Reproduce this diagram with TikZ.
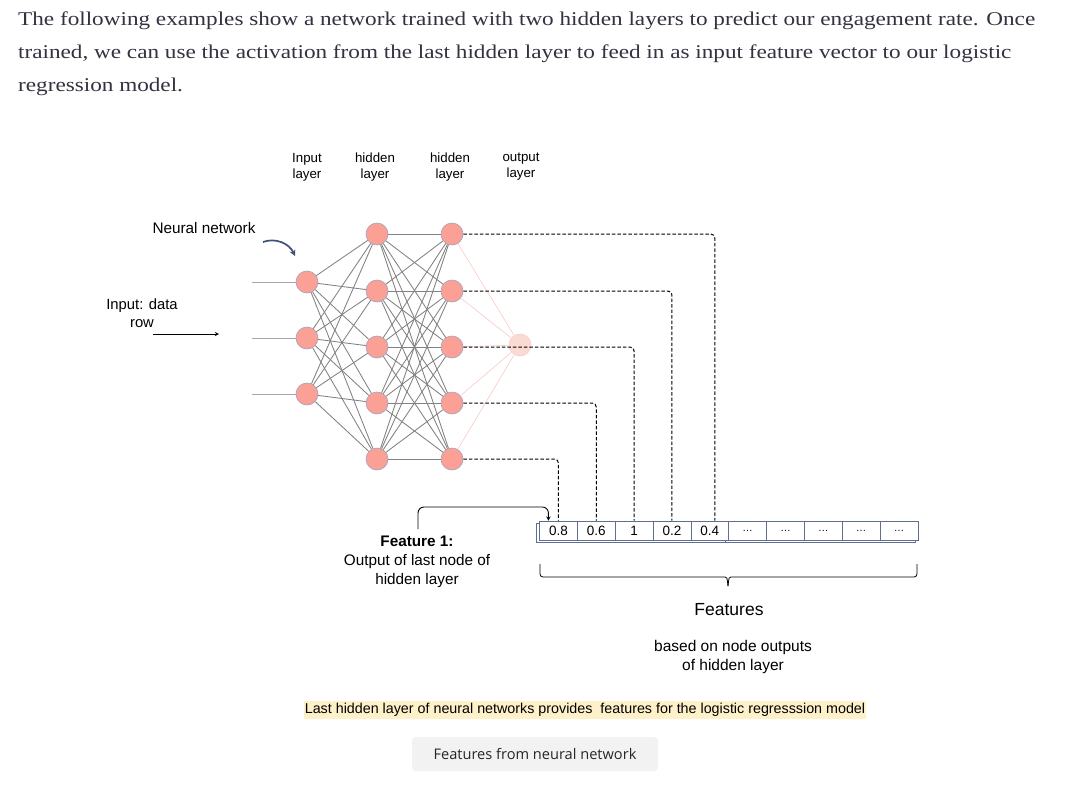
\documentclass[tikz,border=0pt]{standalone}
\usepackage{fontspec}
\setmainfont{Liberation Sans}
\newfontfamily\serifbody{Liberation Serif}
\newfontfamily\uifont{Open Sans}
\usetikzlibrary{calc}

\definecolor{neuron}{RGB}{250,160,148}
\definecolor{neuronline}{RGB}{165,160,190}
\definecolor{outfill}{RGB}{252,218,212}
\definecolor{outedge}{RGB}{242,208,206}
\definecolor{wiregray}{RGB}{130,130,130}
\definecolor{pinkwire}{RGB}{250,202,198}
\definecolor{navy}{RGB}{62,80,118}
\definecolor{cellline}{RGB}{95,110,145}
\definecolor{hilite}{RGB}{254,240,200}
\definecolor{btn}{RGB}{242,242,242}
\definecolor{bodytext}{RGB}{50,50,64}

\newcommand\paraone{The following examples show a network trained with two hidden layers to predict our engagement rate. Once}
\newlength\paralen
\settowidth\paralen{\serifbody\fontsize{19.5}{23}\selectfont\paraone}
\pgfmathsetmacro\stretchx{1017pt/\paralen}

\tikzset{
  neuron/.style={circle,fill=neuron,draw=neuronline,line width=0.6pt,minimum size=22pt,inner sep=0},
  outneuron/.style={neuron,fill=outfill,draw=outedge},
  wire/.style={draw=wiregray,line width=0.85pt},
  pinkwire/.style={draw=pinkwire,line width=0.6pt},
  dashline/.style={dash pattern=on 3.5pt off 2pt,line width=1pt,rounded corners=4pt},
  cell/.style={draw=cellline,fill=white,line width=0.7pt,minimum width=37.85pt,minimum height=19pt,inner sep=0,font=\fontsize{13.5}{15}\selectfont},
  lbl/.style={font=\fontsize{13.3}{16}\selectfont,align=center},
  >=stealth
}

\begin{document}
\begin{tikzpicture}[x=1pt,y=-1pt]
        \fill[white](0,0)rectangle(1065,792);
        \useasboundingbox(0,0)rectangle(1065,792);

        % intro text
        \node[anchor=base west,inner sep=0,text=bodytext,font=\serifbody\fontsize{19.5}{23}\selectfont](para1)at(18,26){\scalebox{\stretchx}[1]{\paraone}};
        \node[anchor=base west,inner sep=0,text=bodytext,font=\serifbody\fontsize{19.5}{23}\selectfont](para2)at(18,59){\scalebox{\stretchx}[1]{trained, we can use the activation from the last hidden layer to feed in as input feature vector to our logistic}};
        \node[anchor=base west,inner sep=0,text=bodytext,font=\serifbody\fontsize{19.5}{23}\selectfont](para3)at(18,92){\scalebox{\stretchx}[1]{regression model.}};

        % layer titles
        \node[lbl](tin)at(307,167){Input\\layer};
        \node[lbl](th1)at(375,167){hidden\\layer};
        \node[lbl](th2)at(450,167){hidden\\layer};
        \node[lbl](tout)at(521,167){output\\layer};

        % neurons
        \foreach \y [count=\i] in {282,338,394}{
            \node[neuron](in\i)at(307,\y){};
            \coordinate(feed\i)at(252,\y);
        }
        \foreach \y [count=\i] in {234,291,347,403,459}{
            \node[neuron](ha\i)at(377,\y){};
            \node[neuron](hb\i)at(452,\y){};
        }
        \node[outneuron](out)at(520,345){};

        % connections
        \foreach \i in {1,2,3}\draw[wire,draw=wiregray!70](feed\i)--(in\i);
        \foreach \i in {1,2,3}\foreach \j in {1,...,5}\draw[wire](in\i)--(ha\j);
        \foreach \i in {1,...,5}\foreach \j in {1,...,5}\draw[wire](ha\i)--(hb\j);
        \foreach \j in {1,...,5}\draw[pinkwire](hb\j)--(out);

        % left labels
        \node[font=\fontsize{15.3}{18}\selectfont](nnlabel)at(204,228){Neural network};
        \coordinate(nnA)at(263,242);
        \coordinate(nnB)at(295,256);
        \draw[->,navy,line width=1.7pt](nnA)to[out=20,in=115](nnB);
        \node[font=\fontsize{14.8}{18}\selectfont,align=center](inlabel)at(142,313){Input: data\\row};
        \coordinate(rowA)at(153,334);
        \coordinate(rowB)at(219,334);
        \draw[->,line width=0.9pt](rowA)--(rowB);

        % feature vector
        \draw[cellline,fill=white,line width=0.7pt](536.5,523)rectangle(725.7,542);
        \draw[cellline,fill=white,line width=0.7pt](725.7,523)rectangle(915,542);
        \foreach \v [count=\i] in {0.8,0.6,1,0.2,0.4}
            \node[cell](c\i)at({539.5+37.85*(\i-0.5)},530.5){\v};
        \foreach \i in {6,...,10}
            \node[cell,font=\fontsize{10.5}{12}\selectfont](c\i)at({539.5+37.85*(\i-0.5)},530.5){\ldots};

        % hidden outputs to features
        \draw[dashline](hb5)-|(c1.north);
        \draw[dashline](hb4)-|(c2.north);
        \draw[dashline](hb3)-|(c3.north);
        \draw[dashline](hb2)-|(c4.north);
        \draw[dashline](hb1)-|([xshift=5pt]c5.north);

        % feature 1 note
        \node[font=\fontsize{15.3}{19}\selectfont,align=center](ftext)at(417,562){\textbf{Feature 1:}\\Output of last node of\\hidden layer};
        \coordinate(fstart)at(418,529);
        \draw[->,line width=0.9pt,rounded corners=6pt](fstart)--++(0,-22)-|([xshift=-10pt]c1.north);

        % brace
        \draw[line width=0.8pt,rounded corners=3pt](540,564)--(540,577)--(722,577)..controls(727,577)..(728,586);
        \draw[line width=0.8pt,rounded corners=3pt](917,564)--(917,577)--(734,577)..controls(729,577)..(728,586);
        \node[font=\fontsize{17.5}{20}\selectfont](feat)at(729,610){Features};
        \node[font=\fontsize{15.5}{19}\selectfont,align=center](featsub)at(733,657){based on node outputs\\of hidden layer};

        % caption
        \node[fill=hilite,inner xsep=1pt,inner ysep=2pt,font=\fontsize{14.3}{16}\selectfont](note)at(585,710){Last hidden layer of neural networks provides~ features for the logistic regresssion model};
        \node[fill=btn,rounded corners=4pt,minimum width=246pt,minimum height=34pt,text=black!85,font=\uifont\fontsize{14.6}{16}\selectfont](cap)at(535,754){Features from neural network};
\end{tikzpicture}
\end{document}
